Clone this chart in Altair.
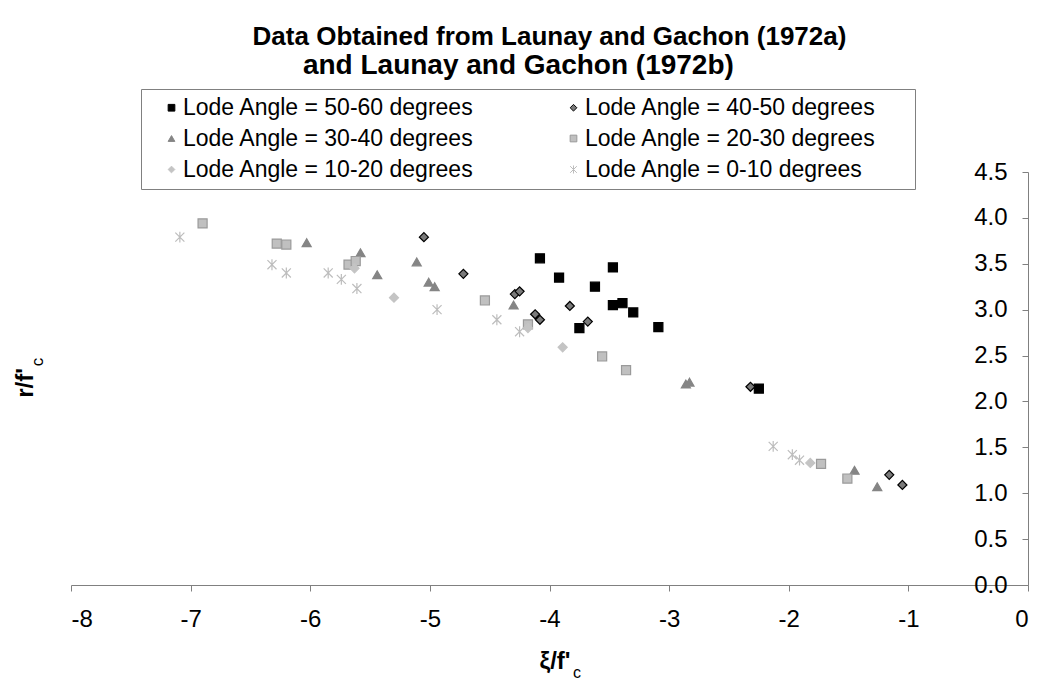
import altair as alt
import pandas as pd

# ---- data ----
series_names = [
    "Lode Angle = 50-60 degrees",
    "Lode Angle = 40-50 degrees",
    "Lode Angle = 30-40 degrees",
    "Lode Angle = 20-30 degrees",
    "Lode Angle = 10-20 degrees",
    "Lode Angle = 0-10 degrees",
]

x_50_60 = [-4.08, -3.92, -3.62, -3.47, -3.47, -3.39, -3.30, -3.75, -3.09, -2.25]
y_50_60 = [3.56, 3.35, 3.25, 3.46, 3.05, 3.07, 2.97, 2.80, 2.81, 2.14]

x_40_50 = [-5.05, -4.72, -4.29, -4.25, -4.12, -4.08, -3.83, -3.68, -2.32, -1.16, -1.05]
y_40_50 = [3.79, 3.39, 3.17, 3.20, 2.95, 2.89, 3.04, 2.87, 2.16, 1.20, 1.09]

x_30_40 = [-6.03, -5.58, -5.44, -5.11, -5.01, -4.96, -4.30, -2.86, -2.83, -1.45, -1.26]
y_30_40 = [3.73, 3.62, 3.38, 3.52, 3.30, 3.25, 3.05, 2.19, 2.21, 1.25, 1.07]

x_20_30 = [-6.90, -6.28, -6.20, -5.68, -5.62, -4.54, -4.18, -3.56, -3.36, -1.73, -1.51]
y_20_30 = [3.94, 3.72, 3.71, 3.49, 3.53, 3.10, 2.84, 2.49, 2.34, 1.32, 1.16]

x_10_20 = [-5.63, -5.30, -4.18, -3.89, -1.82]
y_10_20 = [3.45, 3.13, 2.80, 2.59, 1.33]

x_0_10 = [-7.09, -6.32, -6.20, -5.85, -5.74, -5.61, -4.94, -4.44, -4.25, -2.13, -1.97, -1.91]
y_0_10 = [3.79, 3.49, 3.40, 3.40, 3.33, 3.23, 3.00, 2.89, 2.76, 1.51, 1.42, 1.36]

x_ticks = [-8, -7, -6, -5, -4, -3, -2, -1, 0]
y_ticks = [0.0, 0.5, 1.0, 1.5, 2.0, 2.5, 3.0, 3.5, 4.0, 4.5]

title_line1 = "Data Obtained from Launay and Gachon (1972a)"
title_line2 = "and Launay and Gachon (1972b)"

# ---- build table ----
xs = [x_50_60, x_40_50, x_30_40, x_20_30, x_10_20, x_0_10]
ys = [y_50_60, y_40_50, y_30_40, y_20_30, y_10_20, y_0_10]
rows = []
for name, xv, yv in zip(series_names, xs, ys):
    for a, b in zip(xv, yv):
        rows.append({"series": name, "xi": a, "r": b})
df = pd.DataFrame(rows)

FONT = "Liberation Sans"
W, H = 957, 413
NBSP = "\u00a0"
ZWSP = "\u200b"

asterisk = "M-1,-1L1,1M1,-1L-1,1M0,-1.2L0,1.2"
shape_of = dict(zip(series_names, ["square", "diamond", "triangle-up", "square", "diamond", asterisk]))
fill_of = dict(zip(series_names, ["#000000", "#7a7a7a", "#858585", "#c0c0c0", "#c4c4c4", "transparent"]))
stroke_of = dict(zip(series_names, ["#000000", "#000000", "#858585", "#9a9a9a", "#c4c4c4", "#bdbdbd"]))

# legend fills column by column: order so that rows read 50-60 | 40-50, 30-40 | 20-30, 10-20 | 0-10
legend_order = [series_names[i] for i in (0, 2, 4, 1, 3, 5)]

leg = alt.Legend(
    orient="none", legendX=70, legendY=-83, columns=2, title=None,
    labelFontSize=23, labelFont=FONT, labelColor="#000000", labelLimit=600,
    labelExpr="datum.label + '" + NBSP * 5 + ZWSP + "'",
    symbolSize=45, symbolStrokeWidth=1, labelOffset=0,
    columnPadding=44, rowPadding=7, padding=7, symbolOffset=12,
    strokeColor="#808080", fillColor="#ffffff",
)

points = alt.Chart(df).mark_point(filled=True, opacity=1, size=82, strokeWidth=1.2).encode(
    x=alt.X("xi:Q", scale=alt.Scale(domain=[-8, 0], nice=False, zero=False),
            axis=alt.Axis(values=x_ticks, title=None, grid=False,
                          labelExpr="toString(datum.value)",
                          domainColor="#808080", tickColor="#808080",
                          tickSize=6, labelPadding=16, labelFontSize=24,
                          labelFont=FONT, labelColor="#000000")),
    y=alt.Y("r:Q", scale=alt.Scale(domain=[0, 4.5], nice=False),
            axis=alt.Axis(values=y_ticks, format=".1f", title=None, grid=False,
                          orient="left", offset=-W,
                          domainColor="#808080", tickColor="#808080",
                          tickSize=6, labelPadding=15, labelFontSize=24,
                          labelFont=FONT, labelColor="#000000")),
    shape=alt.Shape("series:N", scale=alt.Scale(domain=legend_order,
                    range=[shape_of[s] for s in legend_order]), legend=leg),
    fill=alt.Fill("series:N", scale=alt.Scale(domain=legend_order,
                  range=[fill_of[s] for s in legend_order]), legend=leg),
    stroke=alt.Stroke("series:N", scale=alt.Scale(domain=legend_order,
                      range=[stroke_of[s] for s in legend_order]), legend=leg),
)

ytitle = alt.Chart(pd.DataFrame({"t": ["r/f'"]})).mark_text(
    font=FONT, fontSize=24, fontWeight="bold", angle=270, align="center", baseline="middle"
).encode(text="t:N", x=alt.value(-45), y=alt.value(211))
ysub = alt.Chart(pd.DataFrame({"t": ["c"]})).mark_text(
    font=FONT, fontSize=17, angle=270, align="center", baseline="middle"
).encode(text="t:N", x=alt.value(-33), y=alt.value(190))

xtitle = alt.Chart(pd.DataFrame({"t": ["ξ/f'"]})).mark_text(
    font=FONT, fontSize=24, fontWeight="bold", align="center", baseline="middle"
).encode(text="t:N", x=alt.value(484), y=alt.value(490))
xsub = alt.Chart(pd.DataFrame({"t": ["c"]})).mark_text(
    font=FONT, fontSize=16, align="center", baseline="middle"
).encode(text="t:N", x=alt.value(506), y=alt.value(501))

chart = alt.layer(points, ytitle, ysub, xtitle, xsub).properties(
    width=W, height=H,
    background="#ffffff",
    title=alt.TitleParams(text=title_line1, fontSize=26, font=FONT, fontWeight="bold",
                          anchor="middle", offset=9, color="#000000",
                          subtitle=title_line2 + NBSP * 8 + ZWSP, subtitleFont=FONT,
                          subtitleFontSize=28, subtitleFontWeight="bold",
                          subtitleColor="#000000", subtitlePadding=2),
    autosize=alt.AutoSizeParams(type="none"),
    padding={"left": 63, "top": 164, "right": 5, "bottom": 95},
).configure_view(stroke=None)

chart.save("out.html", embed_options={"renderer": "svg", "actions": False})
